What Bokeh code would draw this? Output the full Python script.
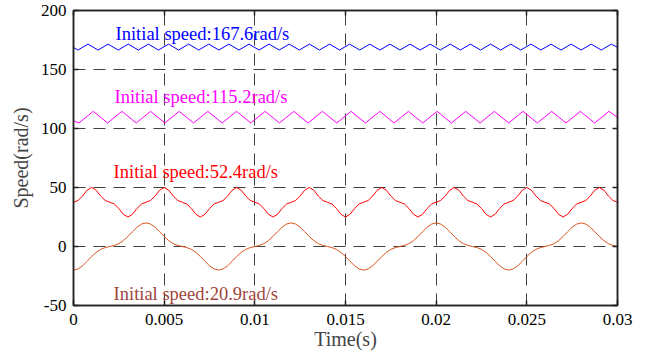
import numpy as np
from bokeh.plotting import figure
from bokeh.models import LinearAxis, FixedTicker, Range1d, ColumnDataSource
from bokeh.core.properties import value
from bokeh.embed import file_html
from bokeh.resources import INLINE

# ---------------- data ----------------
x_ticks = [0, 0.005, 0.01, 0.015, 0.02, 0.025, 0.03]
x_tick_labels = ["0", "0.005", "0.01", "0.015", "0.02", "0.025", "0.03"]
y_ticks = [-50, 0, 50, 100, 150, 200]
y_tick_labels = ["-50", "0", "50", "100", "150", "200"]

# sample times for the two slow curves (0.25 ms step)
t_slow = np.linspace(0, 0.03, 121)

speed_52 = [
    37.5, 39.0, 42.8, 47.7, 50.0, 47.7, 42.8, 39.0, 37.5, 36.0, 32.2, 27.3, 25.0, 27.3, 32.2, 36.0,
    37.5, 39.0, 42.8, 47.7, 50.0, 47.7, 42.8, 39.0, 37.5, 36.0, 32.2, 27.3, 25.0, 27.3, 32.2, 36.0,
    37.5, 39.0, 42.8, 47.7, 50.0, 47.7, 42.8, 39.0, 37.5, 36.0, 32.2, 27.3, 25.0, 27.3, 32.2, 36.0,
    37.5, 39.0, 42.8, 47.7, 50.0, 47.7, 42.8, 39.0, 37.5, 36.0, 32.2, 27.3, 25.0, 27.3, 32.2, 36.0,
    37.5, 39.0, 42.8, 47.7, 50.0, 47.7, 42.8, 39.0, 37.5, 36.0, 32.2, 27.3, 25.0, 27.3, 32.2, 36.0,
    37.5, 39.0, 42.8, 47.7, 50.0, 47.7, 42.8, 39.0, 37.5, 36.0, 32.2, 27.3, 25.0, 27.3, 32.2, 36.0,
    37.5, 39.0, 42.8, 47.7, 50.0, 47.7, 42.8, 39.0, 37.5, 36.0, 32.2, 27.3, 25.0, 27.3, 32.2, 36.0,
    37.5, 39.0, 42.8, 47.7, 50.0, 47.7, 42.8, 39.0, 37.5,
]

speed_21 = [
    -20.0, -19.02, -16.31, -12.52, -8.49, -4.97, -2.43, -0.90, 0.0, 0.90, 2.43, 4.97, 8.49, 12.52, 16.31, 19.02,
    20.0, 19.02, 16.31, 12.52, 8.49, 4.97, 2.43, 0.90, 0.0, -0.90, -2.43, -4.97, -8.49, -12.52, -16.31, -19.02,
    -20.0, -19.02, -16.31, -12.52, -8.49, -4.97, -2.43, -0.90, 0.0, 0.90, 2.43, 4.97, 8.49, 12.52, 16.31, 19.02,
    20.0, 19.02, 16.31, 12.52, 8.49, 4.97, 2.43, 0.90, 0.0, -0.90, -2.43, -4.97, -8.49, -12.52, -16.31, -19.02,
    -20.0, -19.02, -16.31, -12.52, -8.49, -4.97, -2.43, -0.90, 0.0, 0.90, 2.43, 4.97, 8.49, 12.52, 16.31, 19.02,
    20.0, 19.02, 16.31, 12.52, 8.49, 4.97, 2.43, 0.90, 0.0, -0.90, -2.43, -4.97, -8.49, -12.52, -16.31, -19.02,
    -20.0, -19.02, -16.31, -12.52, -8.49, -4.97, -2.43, -0.90, 0.0, 0.90, 2.43, 4.97, 8.49, 12.52, 16.31, 19.02,
    20.0, 19.02, 16.31, 12.52, 8.49, 4.97, 2.43, 0.90, 0.0,
]

# sample times (turning points) for the fast ripples
t_115 = np.concatenate([[0.0], 0.0003 + 0.00079 * np.arange(38), [0.03]])
speed_115 = [
    106.5,
    104.7, 114.5, 104.7, 114.5, 104.7, 114.5, 104.7, 114.5, 104.7, 114.5,
    104.7, 114.5, 104.7, 114.5, 104.7, 114.5, 104.7, 114.5, 104.7, 114.5,
    104.7, 114.5, 104.7, 114.5, 104.7, 114.5, 104.7, 114.5, 104.7, 114.5,
    104.7, 114.5, 104.7, 114.5, 104.7, 114.5, 104.7, 114.5,
    109.5,
]

t_168 = np.concatenate([[0.0], 0.000245 + 0.000555 * np.arange(54), [0.03]])
speed_168 = [
    168.7,
    166.5, 171.5, 166.5, 171.5, 166.5, 171.5, 166.5, 171.5, 166.5, 171.5,
    166.5, 171.5, 166.5, 171.5, 166.5, 171.5, 166.5, 171.5, 166.5, 171.5,
    166.5, 171.5, 166.5, 171.5, 166.5, 171.5, 166.5, 171.5, 166.5, 171.5,
    166.5, 171.5, 166.5, 171.5, 166.5, 171.5, 166.5, 171.5, 166.5, 171.5,
    166.5, 171.5, 166.5, 171.5, 166.5, 171.5, 166.5, 171.5, 166.5, 171.5,
    166.5, 171.5, 166.5, 171.5,
    168.8,
]

series_labels = ["Initial speed:167.6rad/s", "Initial speed:115.2rad/s",
                 "Initial speed:52.4rad/s", "Initial speed:20.9rad/s"]
label_x = [0.00232, 0.00226, 0.00221, 0.00221]
label_y = [180.3, 126.6, 63.1, -39.9]

# ---------------- style ----------------
FONT = "Liberation Serif"
LABEL_FONT = "'Liberation Serif', 'Times New Roman', serif"
line_colors = ["#0000FF", "#FF00FF", "#FF0000", "#D95319"]
text_colors = ["#0000FF", "#FF00FF", "#FF0000", "#A0453C"]

p = figure(width=658, height=356, x_range=Range1d(0, 0.03), y_range=Range1d(-50, 200),
           output_backend="svg", toolbar_location=None,
           min_border_left=73, min_border_right=41, min_border_top=10, min_border_bottom=51)
p.background_fill_color = "white"
p.border_fill_color = "white"
p.outline_line_color = "#222222"
p.outline_line_width = 1.5

xt = FixedTicker(ticks=x_ticks)
yt = FixedTicker(ticks=y_ticks)

def style_axis(ax, show_labels):
    ax.axis_line_color = "#222222"
    ax.axis_line_width = 1.5
    ax.major_tick_in = 5
    ax.major_tick_out = 0
    ax.major_tick_line_color = "#222222"
    ax.major_tick_line_width = 1.5
    ax.minor_tick_line_color = None
    if show_labels:
        ax.major_label_text_font = FONT
        ax.major_label_text_font_size = "17px"
        ax.major_label_text_color = "black"
    else:
        ax.major_label_text_font_size = "0px"
        ax.major_label_text_alpha = 0
        ax.major_label_standoff = 0

p.xaxis.ticker = xt
p.yaxis.ticker = yt
p.xaxis.major_label_overrides = {k: v for k, v in zip(x_ticks, x_tick_labels)}
p.yaxis.major_label_overrides = {k: v for k, v in zip(y_ticks, y_tick_labels)}
style_axis(p.xaxis[0], True)
style_axis(p.yaxis[0], True)
p.xaxis.major_label_standoff = 8
p.yaxis.major_label_standoff = 7

p.xaxis.axis_label = "Time(s)"
p.xaxis.axis_label_text_font = FONT
p.xaxis.axis_label_text_font_size = "20px"
p.xaxis.axis_label_text_font_style = "normal"
p.xaxis.axis_label_standoff = 0
p.yaxis.axis_label = "Speed(rad/s)"
p.yaxis.axis_label_text_font = FONT
p.yaxis.axis_label_text_font_size = "20px"
p.yaxis.axis_label_text_font_style = "normal"
p.yaxis.axis_label_standoff = 6

top_ax = LinearAxis(ticker=xt)
right_ax = LinearAxis(ticker=yt)
style_axis(top_ax, False)
style_axis(right_ax, False)
p.add_layout(top_ax, "above")
p.add_layout(right_ax, "right")

for g, tk in ((p.xgrid, xt), (p.ygrid, yt)):
    g.ticker = tk
    g.grid_line_color = "#404040"
    g.grid_line_width = 1
    g.grid_line_dash = "12 8"

p.line(t_168, speed_168, line_color=line_colors[0], line_width=1)
p.line(t_115, speed_115, line_color=line_colors[1], line_width=1)
p.line(t_slow, speed_52, line_color=line_colors[2], line_width=1)
p.line(t_slow, speed_21, line_color=line_colors[3], line_width=1)

label_src = ColumnDataSource(dict(x=label_x, y=label_y, text=series_labels, color=text_colors))
p.text(x="x", y="y", text="text", text_color="color", source=label_src,
       text_font=value(LABEL_FONT), text_font_size=value("18.5px"),
       text_baseline="alphabetic", text_align="left")

open("out.html", "w").write(file_html(p, INLINE))
